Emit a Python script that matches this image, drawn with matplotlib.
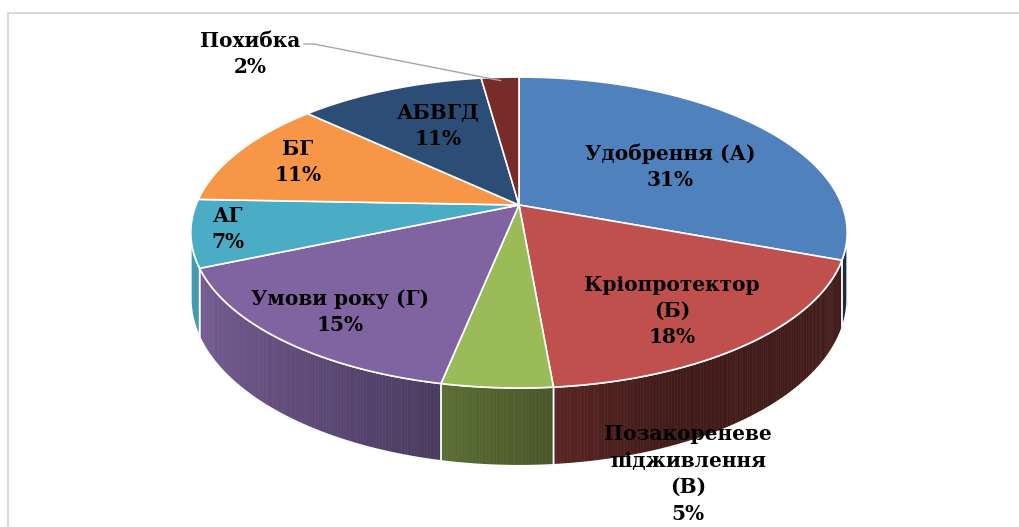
import numpy as np
import matplotlib
matplotlib.use("Agg")
import matplotlib.pyplot as plt
from matplotlib.patches import Polygon
from matplotlib.lines import Line2D

# data (percent shares, clockwise from 12 o'clock)
labels = ["Удобрення (А)", "Кріопротектор\n(Б)", "Позакореневе\nпідживлення\n(В)",
          "Умови року (Г)", "АГ", "БГ", "АБВГД", "Похибка"]
values = [30.6, 18.0, 4.6, 15.4, 7.0, 11.3, 10.9, 2.2]
colors = ["#4F81BD", "#C0504D", "#9BBB59", "#8064A2",
          "#4BACC6", "#F79646", "#2C4D75", "#772C2A"]

# label placement in pixel space (layout only)
label_xy = [(670, 167), (672, 311), (688, 474), (340, 312),
            (228, 229), (298, 162), (438, 126), (250, 54)]

W, H = 1019, 527
fig = plt.figure(figsize=(W / 100, H / 100), dpi=100)
ax = fig.add_axes([0, 0, 1, 1])
ax.set_xlim(0, W)
ax.set_ylim(H, 0)
ax.axis("off")

# perspective view of the pie disc
u0, v0 = 519, 205
A, B, k, D = 323, 150.6, 0.177, 64


def top(t, r=1.0):
    X, Y = r * np.sin(t), r * np.cos(t)
    s = 1 + k * Y
    return u0 + A * X / s, v0 - B * Y / s


def bottom(t):
    u, v = top(t)
    return u, v + D / (1 + k * np.cos(t))


def shade(c, f):
    rgb = np.array(matplotlib.colors.to_rgb(c))
    return tuple(np.clip(rgb * f, 0, 1))


fracs = np.array(values, dtype=float) / sum(values)
edges = np.concatenate([[0], np.cumsum(fracs)]) * 2 * np.pi
t_lo, t_hi = np.arccos(-k), 2 * np.pi - np.arccos(-k)

# side walls (only the part facing the viewer)
for i in range(len(values)):
    a0, a1 = max(edges[i], t_lo), min(edges[i + 1], t_hi)
    if a1 <= a0:
        continue
    ts = np.linspace(a0, a1, max(3, int(np.degrees(a1 - a0) * 2)))
    for ta, tb in zip(ts[:-1], ts[1:]):
        tm = (ta + tb) / 2
        f = np.clip(0.5 - 0.42 * np.sin(tm), 0.34, 1.0)
        c = shade(colors[i], f)
        quad = [top(ta), top(tb), bottom(tb), bottom(ta)]
        ax.add_patch(Polygon(quad, closed=True, facecolor=c, edgecolor=c, lw=0.4))
    outline = [top(t) for t in ts] + [bottom(t) for t in ts[::-1]]
    ax.add_patch(Polygon(outline, closed=True, facecolor="none",
                         edgecolor="white", lw=1.2, joinstyle="round"))

# top faces
for i in range(len(values)):
    ts = np.linspace(edges[i], edges[i + 1], 200)
    pts = [(u0, v0)] + [top(t) for t in ts]
    ax.add_patch(Polygon(pts, closed=True, facecolor=colors[i],
                         edgecolor="white", lw=1.2, joinstyle="round"))

# data labels
for i, (lab, (x, y)) in enumerate(zip(labels, label_xy)):
    pct = round(100 * fracs[i])
    ax.text(x, y, f"{lab}\n{pct}%", ha="center", va="center",
            fontsize=14.5, fontweight="bold", family="DejaVu Serif",
            linespacing=1.4, color="black")

# leader line for the small slice
tm = (edges[-2] + edges[-1]) / 2
ex, ey = top(tm, 0.97)
ax.plot([304, 314, ex], [44, 44, ey], color="#A6A6A6", lw=1)

# chart area frame
fig.add_artist(Line2D([7.5 / W, 7.5 / W, 1], [0, 1 - 12.5 / H, 1 - 12.5 / H],
                      transform=fig.transFigure, color="#D9D9D9", lw=1.5))

fig.savefig("out.png", dpi=100)
